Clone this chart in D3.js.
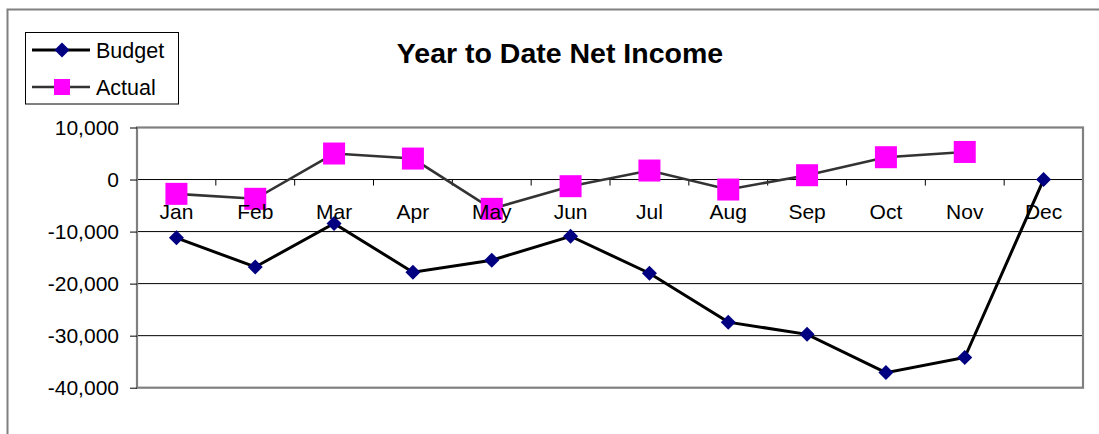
<!DOCTYPE html>
<html>
<head>
<meta charset="utf-8">
<title>Year to Date Net Income</title>
<style>
  body { margin: 0; background: #fff; }
  svg text { font-family: Arial, "Liberation Sans", sans-serif; fill: #000; }
</style>
</head>
<body>
<svg id="viz" width="1099" height="434"></svg>
<script src="https://d3js.org/d3.v7.min.js"></script>
<script>
// chart data
var months = ["Jan","Feb","Mar","Apr","May","Jun","Jul","Aug","Sep","Oct","Nov","Dec"];
var budget = [-11200,-16800,-8450,-17800,-15500,-10900,-18000,-27400,-29750,-37100,-34200,0];
var actual = [-2750,-3700,5000,4030,-5630,-1280,1730,-1920,830,4290,5300,null];
var yTicks = [10000,0,-10000,-20000,-30000,-40000];

var svg = d3.select("#viz");

// outer chart frame (runs off the right/bottom edge like the picture)
svg.append("rect")
  .attr("x", 7.5).attr("y", 9.5)
  .attr("width", 1110).attr("height", 440)
  .attr("fill", "none").attr("stroke", "#808080").attr("stroke-width", 2);

var plotL = 137, plotR = 1083, plotT = 127.5, plotB = 387.7;

var x = d3.scaleBand().domain(months).range([plotL, plotR]);
var y = d3.scaleLinear().domain([-40000, 10000]).range([plotB, plotT]);

// gridlines
svg.append("g").selectAll("line")
  .data(yTicks.filter(function(d){ return d > -40000 && d < 10000; }))
  .enter().append("line")
  .attr("x1", plotL).attr("x2", plotR)
  .attr("y1", function(d){ return y(d); })
  .attr("y2", function(d){ return y(d); })
  .attr("stroke", "#000").attr("stroke-width", 1);

// plot area border
svg.append("rect")
  .attr("x", plotL).attr("y", plotT)
  .attr("width", plotR - plotL).attr("height", plotB - plotT)
  .attr("fill", "none").attr("stroke", "#808080").attr("stroke-width", 2.2);

// value axis (plain hyphen for negatives, like the original)
var fmt = d3.format(",");
var yAxis = d3.axisLeft(y).tickValues(yTicks).tickSize(7).tickPadding(11)
  .tickFormat(function(d){ return fmt(d).replace("\u2212", "-"); });
var ya = svg.append("g").attr("transform", "translate(" + plotL + ",0)").call(yAxis);
ya.select(".domain").remove();
ya.selectAll("line").attr("stroke", "#000");
ya.selectAll("text").style("font-size", "21px").style("font-family", "Arial, 'Liberation Sans', sans-serif");

// category axis ticks on the zero line
var bounds = months.map(function(m){ return x(m) + x.bandwidth(); });
svg.append("g").selectAll("line")
  .data(bounds.slice(0, 11))
  .enter().append("line")
  .attr("x1", function(d){ return d; }).attr("x2", function(d){ return d; })
  .attr("y1", y(0)).attr("y2", y(0) + 6)
  .attr("stroke", "#000").attr("stroke-width", 1);

var line = d3.line()
  .defined(function(d){ return d !== null; })
  .x(function(d, i){ return x(months[i]) + x.bandwidth() / 2; })
  .y(function(d){ return y(d); });

// Actual series
svg.append("path").datum(actual)
  .attr("d", line).attr("fill", "none")
  .attr("stroke", "#333").attr("stroke-width", 2.6);

// Budget series
svg.append("path").datum(budget)
  .attr("d", line).attr("fill", "none")
  .attr("stroke", "#000").attr("stroke-width", 3);

var sq = 22, dm = 7.5;
svg.append("g").selectAll("rect")
  .data(actual.map(function(v, i){ return {v: v, m: months[i]}; })
    .filter(function(d){ return d.v !== null; }))
  .enter().append("rect")
  .attr("x", function(d){ return x(d.m) + x.bandwidth() / 2 - sq / 2; })
  .attr("y", function(d){ return y(d.v) - sq / 2; })
  .attr("width", sq).attr("height", sq)
  .attr("fill", "#ff00ff");

svg.append("g").selectAll("path")
  .data(budget.map(function(v, i){ return {v: v, m: months[i]}; }))
  .enter().append("path")
  .attr("transform", function(d){
    return "translate(" + (x(d.m) + x.bandwidth() / 2) + "," + y(d.v) + ")";
  })
  .attr("d", "M0," + (-dm) + "L" + dm + ",0L0," + dm + "L" + (-dm) + ",0Z")
  .attr("fill", "#000080");

// month labels, drawn over the markers as in the original
svg.append("g").selectAll("text")
  .data(months)
  .enter().append("text")
  .attr("x", function(d){ return x(d) + x.bandwidth() / 2; })
  .attr("y", y(0) + 39)
  .attr("text-anchor", "middle")
  .style("font-size", "21px")
  .text(function(d){ return d; });

// title
svg.append("text")
  .attr("x", 560).attr("y", 63)
  .attr("text-anchor", "middle")
  .style("font-size", "28.5px").style("font-weight", "bold")
  .text("Year to Date Net Income");

// legend
var lg = svg.append("g");
lg.append("rect")
  .attr("x", 25.5).attr("y", 32.5).attr("width", 153).attr("height", 71.5)
  .attr("fill", "#fff").attr("stroke", "#000").attr("stroke-width", 1);
var items = [
  {name: "Budget", yy: 50, stroke: "#000", w: 3},
  {name: "Actual", yy: 87, stroke: "#333", w: 2.6}
];
items.forEach(function(it, i){
  lg.append("line").attr("x1", 32).attr("x2", 90)
    .attr("y1", it.yy).attr("y2", it.yy)
    .attr("stroke", it.stroke).attr("stroke-width", it.w);
  if (i === 0) {
    lg.append("path").attr("transform", "translate(62," + it.yy + ")")
      .attr("d", "M0," + (-dm) + "L" + dm + ",0L0," + dm + "L" + (-dm) + ",0Z")
      .attr("fill", "#000080");
  } else {
    lg.append("rect").attr("x", 62 - 8).attr("y", it.yy - 8)
      .attr("width", 16).attr("height", 16).attr("fill", "#ff00ff");
  }
  lg.append("text").attr("x", 96).attr("y", it.yy + 8)
    .style("font-size", "21.5px").text(it.name);
});
</script>
</body>
</html>
